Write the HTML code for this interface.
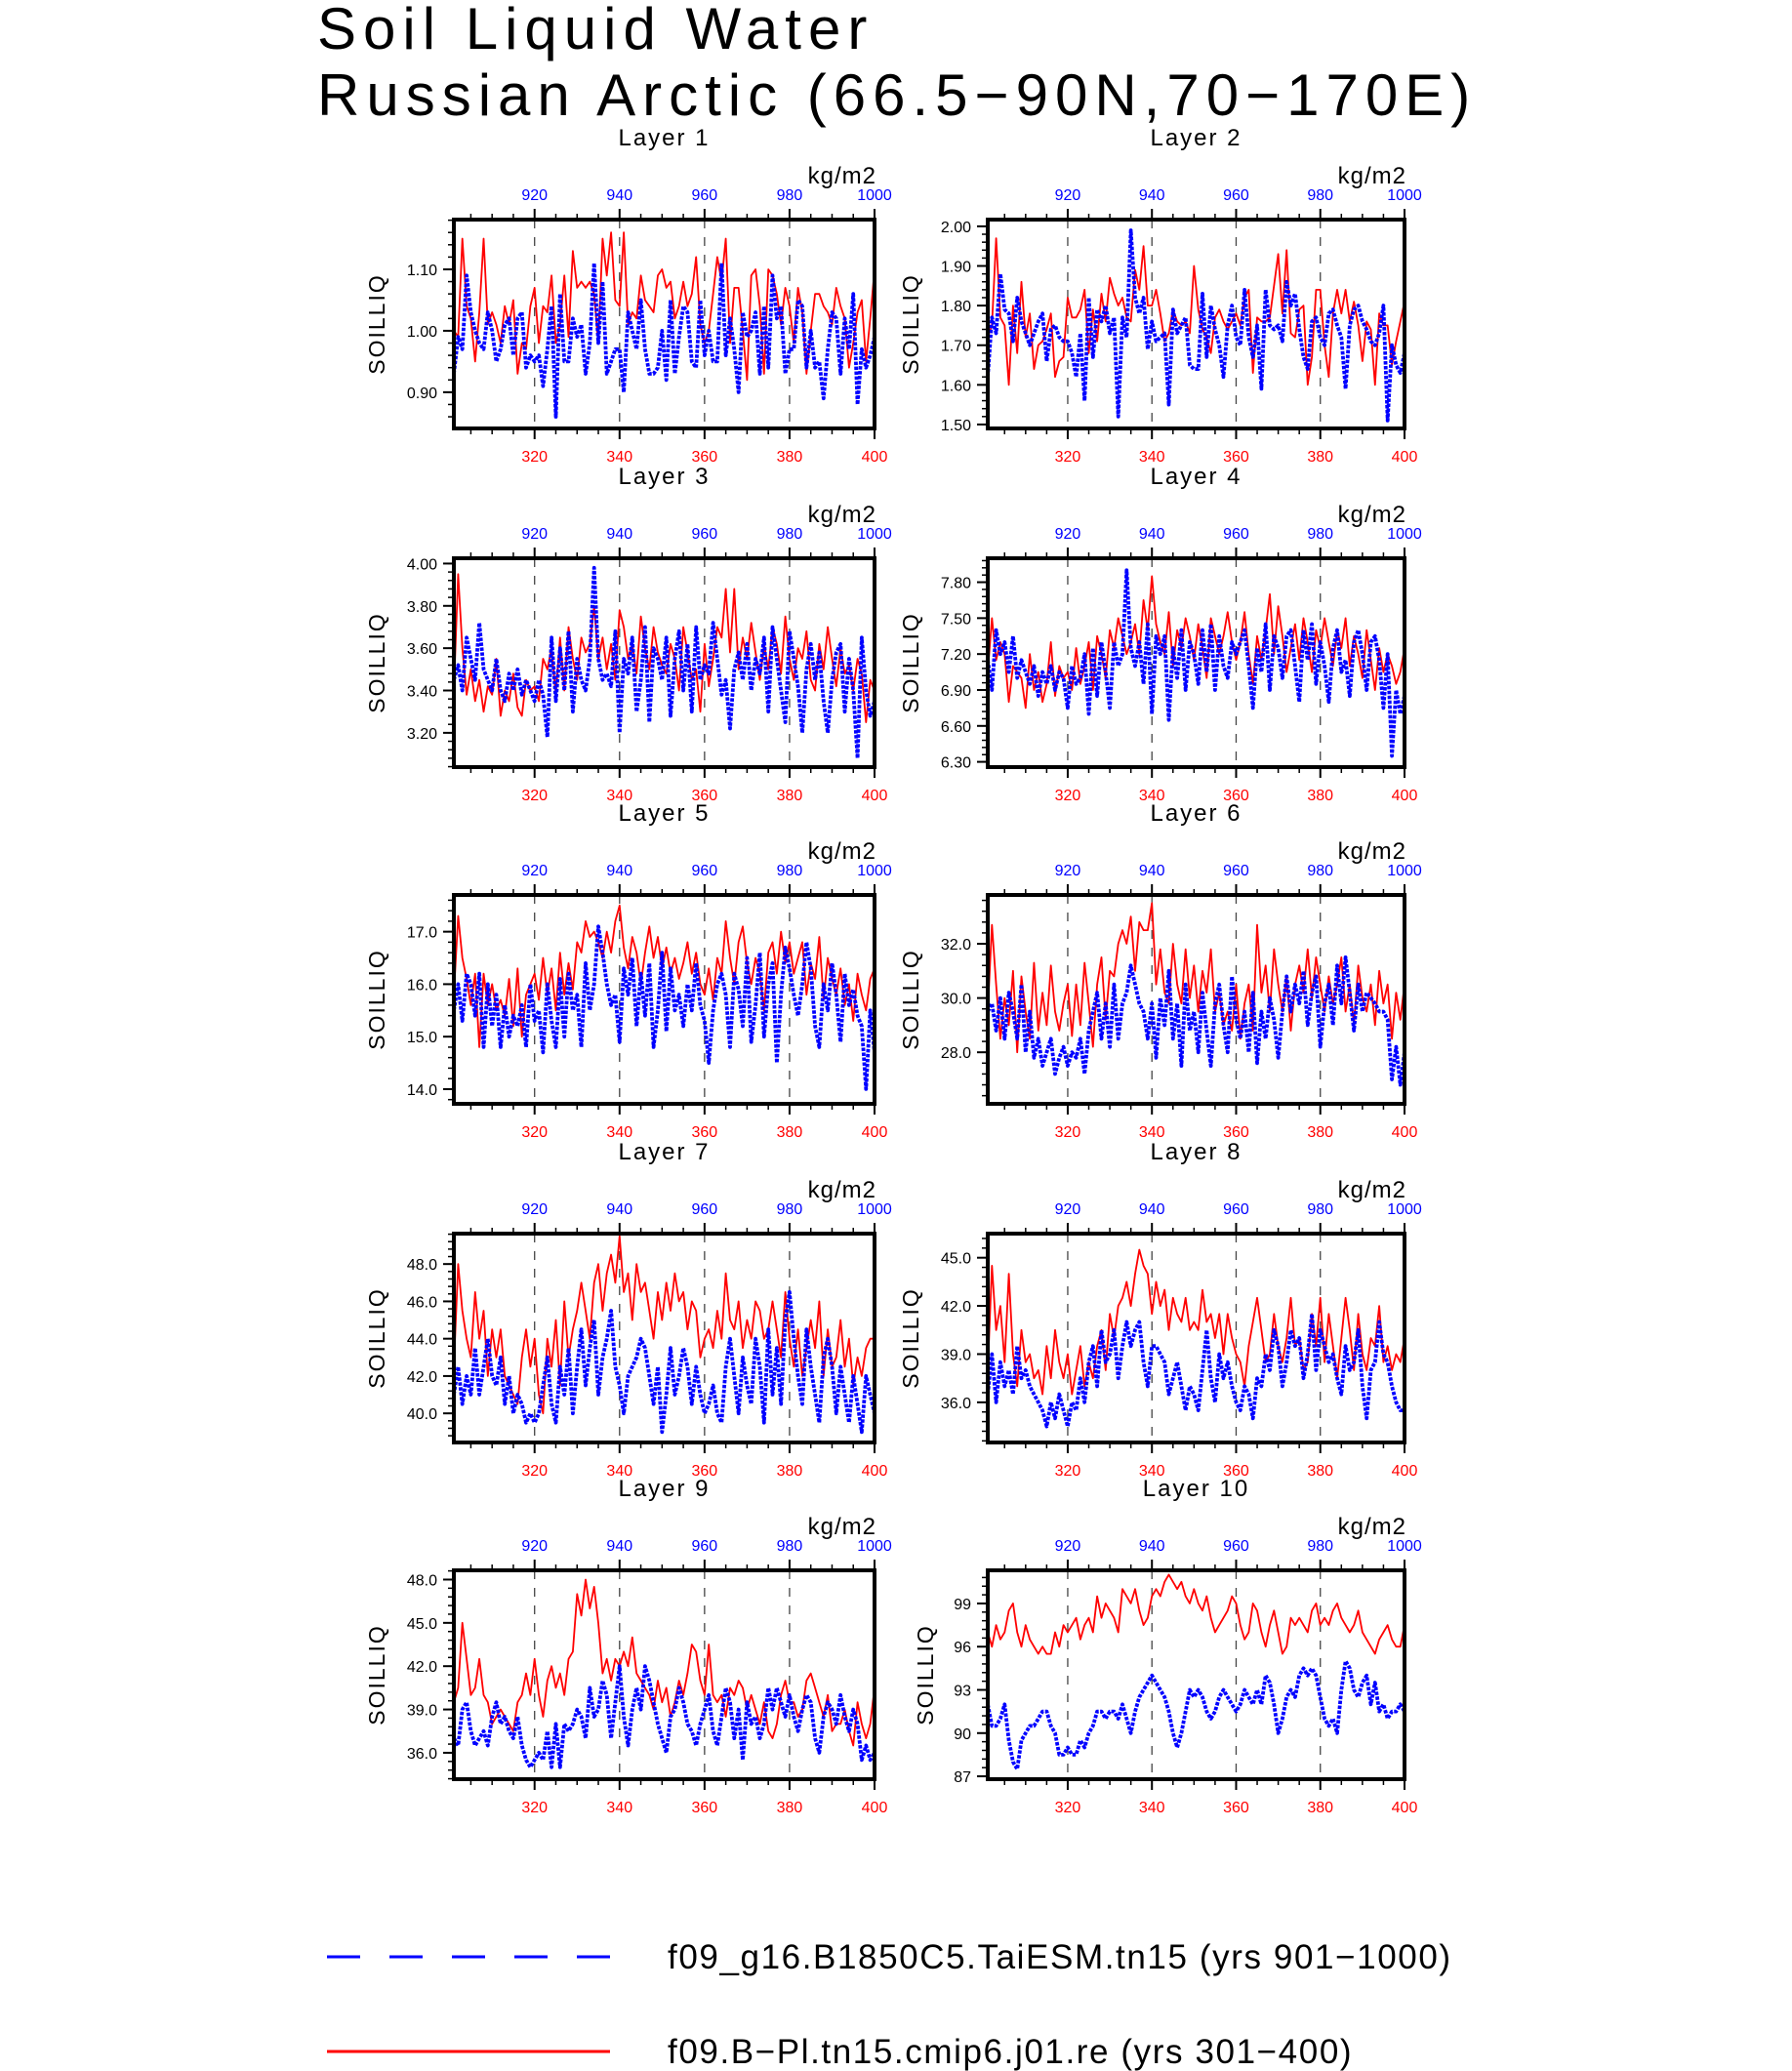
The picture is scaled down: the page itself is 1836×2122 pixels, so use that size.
<!DOCTYPE html>
<html><head><meta charset="utf-8"><style>
html,body{margin:0;padding:0;background:#fff;}
svg{display:block;font-family:"Liberation Sans","DejaVu Sans",sans-serif;}
</style></head><body>
<svg id="chart" width="1836" height="2122" viewBox="0 0 1836 2122" xmlns="http://www.w3.org/2000/svg">
<text x="325" y="50" font-size="60" letter-spacing="7" fill="#000">Soil Liquid Water</text>
<text x="325" y="118" font-size="60" letter-spacing="7" fill="#000">Russian Arctic (66.5−90N,70−170E)</text>
<g id="panels"></g>
<g>
<line x1="335" y1="2005" x2="625" y2="2005" stroke="#0000ff" stroke-width="3" stroke-dasharray="34 30"/>
<text x="684" y="2017" font-size="35" letter-spacing="1.6" fill="#000">f09_g16.B1850C5.TaiESM.tn15 (yrs 901−1000)</text>
<line x1="335" y1="2102" x2="625" y2="2102" stroke="#ff0000" stroke-width="3"/>
<text x="684" y="2114" font-size="35" letter-spacing="1.6" fill="#000">f09.B−Pl.tn15.cmip6.j01.re (yrs 301−400)</text>
</g>
</svg>
<script>
const redYears=[301,400];
const blueYears=[901,1000];
const xTickRed=["320","340","360","380","400"];
const xTickBlue=["920","940","960","980","1000"];
const layerNames=["Layer 1","Layer 2","Layer 3","Layer 4","Layer 5","Layer 6","Layer 7","Layer 8","Layer 9","Layer 10"];
const yRanges=[[0.841,1.181],[1.49,2.017],[3.038,4.025],[6.256,8.0],[13.72,17.7],[26.1,33.8],[38.44,49.63],[33.5,46.5],[34.17,48.64],[86.8,101.3]];
const yTicks=[[0.9,1.0,1.1],[1.5,1.6,1.7,1.8,1.9,2.0],[3.2,3.4,3.6,3.8,4.0],[6.3,6.6,6.9,7.2,7.5,7.8],[14,15,16,17],[28,30,32],[40,42,44,46,48],[36,39,42,45],[36,39,42,45,48],[87,90,93,96,99]];
const yMinor=[0.02,0.02,0.04,0.06,0.2,0.4,0.4,0.6,0.6,0.6];
const yDec=[2,2,2,2,1,1,1,1,1,0];

const red1=[1.00,0.99,1.15,1.04,1.02,0.95,1.03,1.15,1.01,1.03,1.01,0.98,1.04,1.01,1.05,0.93,0.98,0.97,1.04,1.07,0.98,1.04,1.03,1.09,0.98,1.01,1.09,0.99,1.13,1.07,1.08,1.07,1.08,1.06,0.98,1.15,1.09,1.16,1.05,1.04,1.16,1.01,1.03,1.02,1.09,1.05,1.04,1.03,1.09,1.10,1.07,1.08,1.02,1.04,1.08,1.04,1.06,1.12,1.01,0.98,1.00,1.06,1.12,1.08,1.15,0.98,1.07,1.07,1.00,0.92,1.09,1.10,1.04,0.93,1.10,1.09,1.06,1.01,1.07,1.04,0.98,1.07,1.03,0.93,1.00,1.06,1.06,1.04,1.03,1.01,1.07,1.04,1.02,0.94,0.98,1.03,1.05,0.95,1.02,1.10];
const blue1=[0.93,0.99,0.97,1.09,1.03,1.00,0.98,0.97,1.03,1.00,0.95,0.97,1.01,1.02,0.96,1.02,1.03,0.94,0.96,0.95,0.96,0.91,0.97,1.04,0.86,1.06,0.95,0.95,1.02,0.99,1.01,0.93,0.98,1.11,0.98,1.08,0.93,0.95,0.97,0.97,0.90,1.03,1.00,0.97,1.05,0.97,0.93,0.93,0.94,1.00,0.92,1.05,0.93,0.99,1.04,1.03,0.95,0.94,1.05,0.96,1.00,0.95,0.95,1.11,0.96,1.02,0.97,0.90,1.03,0.99,1.00,1.03,0.93,1.04,0.94,1.09,1.02,1.04,0.93,0.97,0.97,1.05,1.04,0.94,1.00,0.94,0.95,0.89,0.97,1.03,1.02,0.93,1.02,0.97,1.06,0.88,0.97,0.94,0.96,0.99];
const red2=[1.72,1.75,1.97,1.77,1.75,1.60,1.80,1.68,1.86,1.72,1.78,1.64,1.70,1.71,1.74,1.78,1.62,1.66,1.67,1.82,1.77,1.77,1.79,1.84,1.68,1.79,1.71,1.83,1.76,1.87,1.83,1.80,1.82,1.77,1.76,1.89,1.84,1.95,1.80,1.80,1.84,1.78,1.71,1.73,1.79,1.76,1.75,1.76,1.73,1.90,1.79,1.74,1.72,1.68,1.77,1.79,1.76,1.74,1.76,1.78,1.75,1.82,1.84,1.63,1.77,1.76,1.76,1.77,1.85,1.93,1.78,1.94,1.73,1.72,1.79,1.80,1.60,1.67,1.84,1.84,1.70,1.62,1.78,1.84,1.78,1.84,1.76,1.81,1.75,1.66,1.76,1.74,1.60,1.78,1.75,1.75,1.65,1.71,1.76,1.81];
const blue2=[1.62,1.77,1.73,1.88,1.79,1.78,1.71,1.82,1.76,1.73,1.70,1.73,1.76,1.78,1.66,1.74,1.75,1.72,1.71,1.71,1.68,1.62,1.73,1.56,1.82,1.67,1.79,1.76,1.80,1.73,1.77,1.52,1.77,1.72,1.99,1.82,1.78,1.82,1.69,1.76,1.71,1.72,1.73,1.55,1.79,1.73,1.75,1.77,1.65,1.64,1.64,1.83,1.67,1.80,1.74,1.70,1.62,1.75,1.80,1.72,1.70,1.84,1.72,1.67,1.75,1.59,1.84,1.75,1.74,1.75,1.71,1.86,1.80,1.83,1.74,1.67,1.64,1.76,1.77,1.72,1.70,1.78,1.79,1.75,1.72,1.59,1.75,1.79,1.80,1.76,1.74,1.71,1.70,1.73,1.80,1.51,1.70,1.65,1.63,1.68];
const red3=[3.40,3.95,3.60,3.38,3.50,3.35,3.45,3.30,3.42,3.38,3.55,3.28,3.40,3.35,3.48,3.32,3.28,3.45,3.40,3.42,3.35,3.55,3.50,3.60,3.38,3.65,3.40,3.70,3.55,3.45,3.65,3.58,3.62,3.80,3.55,3.65,3.50,3.62,3.45,3.78,3.70,3.55,3.62,3.48,3.75,3.60,3.50,3.70,3.58,3.52,3.48,3.62,3.55,3.40,3.70,3.58,3.45,3.50,3.30,3.62,3.42,3.55,3.70,3.65,3.88,3.58,3.88,3.50,3.65,3.55,3.72,3.58,3.45,3.62,3.50,3.70,3.62,3.48,3.75,3.55,3.45,3.60,3.55,3.68,3.45,3.40,3.62,3.50,3.70,3.55,3.42,3.60,3.48,3.52,3.40,3.55,3.48,3.25,3.45,3.40];
const blue3=[3.45,3.52,3.40,3.65,3.55,3.45,3.72,3.50,3.45,3.40,3.55,3.40,3.35,3.48,3.40,3.50,3.38,3.45,3.40,3.35,3.45,3.38,3.18,3.65,3.35,3.60,3.40,3.68,3.30,3.55,3.45,3.40,3.55,3.98,3.55,3.45,3.48,3.42,3.68,3.20,3.55,3.48,3.65,3.30,3.45,3.70,3.25,3.60,3.55,3.45,3.65,3.28,3.55,3.68,3.40,3.62,3.30,3.70,3.45,3.52,3.48,3.72,3.55,3.38,3.45,3.22,3.50,3.58,3.45,3.62,3.40,3.55,3.48,3.65,3.30,3.70,3.55,3.40,3.25,3.68,3.55,3.42,3.20,3.50,3.62,3.45,3.58,3.35,3.20,3.45,3.58,3.62,3.30,3.55,3.40,3.08,3.65,3.40,3.28,3.35];
const red4=[7.05,7.50,7.15,7.30,7.20,6.80,7.10,7.05,7.00,6.75,7.20,6.90,7.05,6.80,6.95,7.30,6.85,7.10,7.00,7.05,6.90,7.25,6.95,7.10,7.30,6.90,7.35,7.20,7.00,7.40,7.25,7.50,7.35,7.20,7.30,7.45,7.20,7.65,7.40,7.85,7.45,7.30,7.20,7.55,7.10,7.40,7.25,7.50,7.35,7.15,7.45,7.25,7.00,7.50,7.35,7.20,7.35,7.55,7.30,7.15,7.30,7.55,7.20,6.95,7.35,7.15,7.40,7.70,7.20,7.60,7.35,7.05,7.25,7.45,7.15,7.50,7.30,7.05,7.40,7.25,7.50,7.30,7.10,7.40,7.25,7.50,7.10,7.35,7.20,7.00,7.40,7.15,6.90,7.25,7.05,7.20,7.10,6.95,7.05,7.25];
const blue4=[7.15,6.90,7.40,7.20,7.30,7.05,7.35,7.00,7.15,7.05,6.95,7.10,6.85,7.05,6.95,7.10,6.90,7.05,7.00,6.75,7.10,6.95,7.00,7.20,6.70,7.25,6.85,7.30,7.05,6.75,7.30,7.10,7.20,7.90,7.25,7.10,7.30,6.95,7.45,6.70,7.35,7.20,7.35,6.65,7.25,7.00,7.40,6.90,7.30,7.20,6.95,7.40,7.05,7.45,6.90,7.35,7.10,7.00,7.30,7.20,7.30,7.40,7.10,6.75,7.25,7.05,7.45,6.90,7.35,7.25,7.00,7.35,7.40,7.10,6.80,7.40,7.15,7.45,6.95,7.30,7.10,6.80,7.25,7.40,7.05,7.15,6.85,7.30,7.40,7.20,6.90,7.30,7.35,7.15,6.75,7.20,6.35,6.90,6.70,6.85];
const red5=[15.8,17.3,16.5,16.1,15.6,16.2,14.8,16.2,15.6,16.0,15.5,15.7,15.4,16.1,15.2,16.3,15.0,15.8,16.0,16.2,15.7,16.5,15.8,16.3,15.5,16.6,15.8,16.4,15.9,16.8,16.6,17.2,16.9,17.0,16.8,16.5,17.0,16.6,17.2,17.5,16.7,16.3,16.9,16.6,16.0,16.6,17.1,16.5,16.9,16.3,16.7,16.2,16.5,16.1,16.4,16.8,16.2,16.6,16.0,15.8,16.3,15.7,16.5,16.2,17.2,16.5,16.0,16.8,17.1,16.4,16.0,16.5,16.2,15.5,16.6,16.8,16.2,17.0,16.4,16.8,16.2,16.5,16.8,15.8,16.4,16.1,16.9,15.7,16.5,16.1,15.8,16.3,15.6,16.0,15.3,16.2,15.8,15.5,16.1,16.3];
const blue5=[15.5,16.0,15.3,16.2,16.0,15.4,16.2,14.8,16.0,15.2,15.8,14.8,15.6,15.0,15.4,15.2,15.6,14.8,16.0,15.3,15.5,14.7,16.0,15.3,14.8,16.1,15.0,16.2,15.5,15.8,14.8,16.4,15.5,16.0,17.1,16.6,16.0,15.6,15.8,14.9,16.3,15.8,16.5,15.2,16.2,15.4,16.4,14.8,15.5,16.6,15.1,16.3,15.5,15.8,15.2,16.0,15.5,16.4,15.6,15.3,14.5,15.5,16.0,16.2,15.8,14.8,16.2,15.9,15.2,16.5,14.9,15.6,16.6,15.0,16.0,16.4,14.5,15.8,16.7,16.3,15.8,15.4,16.0,16.8,16.3,15.2,14.8,16.0,15.5,16.4,15.8,14.9,16.2,15.6,15.9,15.4,15.2,14.0,15.5,14.7];
const red6=[29.5,32.7,30.5,28.5,30.0,29.0,31.0,28.0,30.8,29.5,28.5,31.3,28.8,30.2,29.0,31.2,29.5,28.8,29.8,30.5,28.6,30.5,29.0,31.3,29.8,28.2,30.5,31.5,29.2,31.0,30.8,32.0,32.5,32.0,33.0,31.0,32.8,32.5,32.5,33.5,30.5,31.8,30.2,29.8,32.0,30.5,29.8,31.8,30.0,31.2,29.5,31.0,30.2,31.8,29.5,30.2,29.0,29.5,28.8,30.5,28.5,29.8,30.5,28.8,32.7,30.2,31.2,29.5,31.8,30.5,29.5,30.8,28.8,30.5,31.2,30.2,31.8,30.0,31.5,30.5,29.5,30.8,29.8,30.5,31.5,29.5,30.5,29.0,31.2,30.0,29.5,30.5,29.0,31.0,29.8,30.5,28.5,30.2,29.2,30.5];
const blue6=[29.5,29.8,28.8,30.0,28.5,30.2,29.5,28.5,30.5,28.0,29.5,27.8,28.5,27.5,28.0,28.5,27.2,27.8,28.2,27.5,28.0,27.8,28.5,27.2,28.8,29.5,30.2,28.5,29.8,28.2,30.5,28.5,29.8,30.2,31.2,30.5,29.8,29.5,28.5,29.8,27.8,30.0,29.0,31.0,28.5,29.8,27.5,30.5,28.8,29.5,28.0,30.2,28.8,27.5,29.8,30.5,29.0,28.0,30.8,29.2,28.5,29.5,28.0,30.2,27.6,29.5,28.5,30.0,29.2,27.8,29.5,30.8,29.5,30.5,29.8,31.0,29.0,30.2,30.8,28.2,29.8,30.5,29.0,31.2,29.8,31.5,30.2,28.8,30.5,29.5,30.2,30.0,29.8,29.5,29.5,29.2,27.0,28.2,26.8,28.0];
const red7=[42.5,48.0,45.5,44.0,43.0,46.5,44.0,45.5,42.0,44.5,43.0,44.5,42.0,41.5,41.0,40.5,43.0,44.5,42.5,44.0,41.0,40.0,44.0,42.5,45.0,41.5,46.0,43.0,44.5,45.5,47.0,45.5,44.0,47.0,48.0,45.5,47.5,48.5,47.0,49.5,46.5,47.5,45.0,48.0,46.5,47.0,45.5,44.0,46.5,45.0,47.0,45.5,47.5,46.0,46.5,44.5,46.0,45.5,43.0,44.0,44.5,43.5,45.5,44.0,47.5,45.0,44.5,46.0,43.5,45.0,44.0,46.0,45.5,44.0,44.5,46.0,44.5,43.0,46.5,44.0,42.5,44.5,42.0,43.5,45.0,43.5,46.0,42.0,44.5,42.5,43.0,45.0,42.5,44.0,41.5,43.0,42.0,43.5,44.0,44.0];
const blue7=[41.0,42.5,40.5,42.0,41.0,43.5,41.0,42.5,44.0,42.0,41.5,43.0,40.5,42.0,40.0,41.0,40.5,39.5,40.0,39.5,40.0,41.5,43.0,40.5,39.5,42.5,41.0,43.5,40.0,42.5,44.5,41.5,43.5,45.0,41.0,43.0,44.0,45.5,42.5,41.5,40.0,42.0,42.5,43.0,44.0,43.5,42.0,40.5,42.5,39.0,41.0,43.5,41.0,42.0,43.5,42.5,40.5,42.5,41.0,40.0,40.5,41.5,40.0,39.5,42.5,44.0,42.0,40.0,43.0,41.5,40.5,44.0,42.5,39.5,44.5,41.0,43.5,40.5,45.0,46.5,44.0,42.0,40.5,44.5,42.5,41.0,39.5,43.0,44.0,42.5,40.0,42.5,41.0,39.5,42.0,40.5,39.0,42.0,41.0,40.0];
const red8=[38.0,44.5,40.5,42.0,38.5,44.0,39.0,37.0,40.5,38.5,39.0,37.5,38.0,36.5,39.5,37.5,40.5,38.5,37.5,39.0,36.5,38.0,39.5,37.0,38.5,37.5,39.5,40.5,38.0,41.5,40.0,42.0,42.5,43.5,42.0,44.0,45.5,44.5,44.0,41.5,43.5,42.0,43.0,40.5,42.5,41.5,41.0,42.5,40.5,41.0,40.5,43.0,41.0,41.5,40.0,41.5,39.0,41.5,40.0,39.0,38.5,37.0,39.5,41.0,42.5,40.5,38.5,39.0,41.5,39.5,38.5,40.0,42.5,39.5,40.0,38.0,38.5,41.5,39.5,42.5,38.5,41.5,39.5,37.5,40.0,42.5,40.5,38.0,41.5,39.0,38.0,40.0,39.5,42.0,38.5,39.5,38.0,39.0,38.5,40.0];
const blue8=[36.5,39.0,36.0,38.5,37.0,38.0,36.5,39.5,37.5,38.0,37.0,36.5,36.0,35.5,34.5,36.0,35.0,36.5,35.5,34.5,36.0,35.5,37.5,36.0,38.5,39.5,37.0,40.5,38.5,39.0,40.5,37.5,39.5,41.0,39.5,40.5,41.0,38.5,37.0,39.5,39.5,39.0,38.5,36.5,37.5,38.5,37.0,35.5,37.0,36.5,35.5,38.0,40.5,37.5,36.0,39.0,37.5,38.5,37.0,36.0,35.5,37.0,36.5,35.0,37.5,37.0,39.0,38.0,40.5,39.5,37.0,38.5,40.5,39.5,40.0,37.5,39.0,41.5,38.0,40.5,39.5,38.5,39.0,37.5,36.5,39.5,38.0,38.5,40.5,37.0,35.0,38.0,38.5,41.0,39.0,38.5,37.0,36.0,35.5,35.5];
const red9=[39.5,40.5,45.0,42.5,40.0,40.5,42.5,40.0,39.5,38.0,38.5,39.0,38.5,38.0,37.5,39.5,40.0,41.5,40.0,42.5,40.0,38.5,41.0,42.0,40.5,41.5,40.0,42.5,43.0,47.0,45.5,48.0,46.0,47.5,45.0,41.5,42.5,41.0,42.5,42.0,43.0,42.0,44.0,41.5,41.0,40.5,40.0,39.0,41.0,39.5,40.5,38.5,39.5,41.0,40.0,41.5,43.5,43.0,41.0,40.0,43.5,40.0,39.5,40.0,38.5,40.5,40.0,41.0,40.5,39.0,40.0,39.0,38.0,39.5,37.5,37.0,38.0,40.0,41.0,39.5,39.5,38.5,39.0,41.0,41.5,40.5,39.5,38.5,40.0,37.5,38.0,38.0,39.0,37.5,36.5,39.5,38.0,37.0,38.0,40.5];
const blue9=[37.0,36.5,39.0,39.5,37.5,36.5,37.0,37.5,36.5,38.5,39.5,38.0,38.5,37.5,37.0,38.5,36.5,35.5,35.0,35.5,36.0,35.5,37.5,35.0,38.0,35.0,38.0,37.5,38.0,39.0,38.5,37.0,40.5,38.5,39.0,41.0,40.0,37.0,39.5,42.0,38.5,36.5,39.0,40.5,39.0,42.0,41.0,39.5,38.0,37.0,36.0,38.5,39.0,40.5,39.5,38.0,37.5,36.5,38.0,39.0,40.0,37.5,36.5,38.5,40.5,39.5,37.0,39.0,35.5,39.5,38.0,38.5,37.0,38.0,40.5,39.0,40.5,39.5,38.5,40.0,38.5,37.5,39.0,40.0,39.5,37.0,36.0,38.5,39.5,39.0,38.0,40.0,38.5,37.5,39.0,38.0,35.5,36.5,35.5,36.0];
const red10=[97.0,96.0,97.5,96.5,97.0,98.5,99.0,97.0,96.0,97.5,96.5,96.0,95.5,96.0,95.5,95.5,97.0,96.0,97.5,97.0,97.5,98.0,96.5,97.5,98.0,97.0,99.5,98.0,99.0,98.5,98.0,97.0,100.0,99.5,99.0,100.0,98.5,97.5,98.0,99.5,100.0,99.5,100.5,101.0,100.5,100.0,100.5,99.5,99.0,100.0,99.0,98.5,99.5,98.0,97.0,97.5,98.0,98.5,99.5,99.0,97.5,96.5,97.0,99.0,98.5,97.0,96.0,97.5,98.5,97.0,95.5,96.0,98.0,97.5,98.0,97.5,97.0,98.5,99.0,97.5,98.0,97.5,98.5,99.0,98.0,97.5,97.0,97.5,98.5,97.0,96.5,96.0,95.5,96.5,97.0,97.5,96.5,96.0,96.0,97.5];
const blue10=[92.0,90.5,90.5,91.0,92.0,89.5,88.0,87.5,89.5,90.0,90.5,90.5,91.0,91.5,91.5,90.5,90.0,88.5,88.5,89.0,88.5,88.5,89.5,89.0,90.0,90.5,91.5,91.5,91.0,91.5,91.5,91.0,92.0,91.0,90.0,91.5,92.5,93.0,93.5,94.0,93.5,93.0,92.5,91.5,90.0,89.0,90.0,91.5,93.0,92.5,93.0,92.5,91.5,91.0,91.5,92.5,93.0,92.5,92.0,91.5,92.0,93.0,92.5,92.0,93.0,92.0,94.0,93.5,92.0,90.0,91.0,92.5,93.0,92.5,94.0,94.5,94.0,94.5,94.0,92.5,91.0,90.5,91.0,90.0,93.0,95.0,94.5,93.0,92.5,93.5,94.0,92.0,93.5,91.5,92.0,91.0,91.5,91.5,92.0,91.5];

const redSeries=[red1,red2,red3,red4,red5,red6,red7,red8,red9,red10];
const blueSeries=[blue1,blue2,blue3,blue4,blue5,blue6,blue7,blue8,blue9,blue10];

const NS="http://www.w3.org/2000/svg";
const root=document.getElementById('panels');
function mk(tag,attrs,parent){const e=document.createElementNS(NS,tag);for(const k in attrs)e.setAttribute(k,attrs[k]);(parent||root).appendChild(e);return e;}

const colX=[465,1012], colW=[431,427];
const rowY=[225,572,917,1264,1609], H=214;

for(let p=0;p<10;p++){
  const col=p%2,row=Math.floor(p/2);
  const x0=colX[col],w=colW[col],y0=rowY[row];
  const [ymin,ymax]=yRanges[p];
  const xs=v=>x0+(v-redYears[0])/(redYears[1]-redYears[0])*w;
  const xb=v=>x0+(v-blueYears[0])/(blueYears[1]-blueYears[0])*w;
  const ys=v=>y0+H-(v-ymin)/(ymax-ymin)*H;
  const g=mk('g',{});
  
  

  const t=mk('text',{x:x0+w/2,y:y0-76,'font-size':24,'text-anchor':'middle',fill:'#000','letter-spacing':'2'},g);
  
  
  t.textContent=layerNames[p];
  const u=mk('text',{x:x0+w+2,y:y0-37,'font-size':24,'text-anchor':'end',fill:'#000','letter-spacing':'1'},g);
  
  
  u.textContent='kg/m2';
  const yl=mk('text',{x:0,y:0,'font-size':23,'text-anchor':'middle',fill:'#000','letter-spacing':'2',transform:`translate(${p===9?956:x0-71},${y0+H/2}) rotate(-90)`},g);
  
  
  yl.textContent='SOILLIQ';

  for(let i=0;i<xTickRed.length-1;i++){
    const gx=xs(+xTickRed[i]);
    const gl=mk('line',{x1:gx,y1:y0,x2:gx,y2:y0+H,stroke:'#444','stroke-width':1.3,'stroke-dasharray':'9 9'},g);
    
    
  }
  for(let yv=redYears[0]+4;yv<=redYears[1];yv+=5){
    const tx=xs(yv);const major=(yv%20===0);const L=major?11:6;
    mk('line',{x1:tx,y1:y0+H,x2:tx,y2:y0+H+L,stroke:'#000','stroke-width':major?2:1.5},g);
    mk('line',{x1:tx,y1:y0,x2:tx,y2:y0-L,stroke:'#000','stroke-width':major?2:1.5},g);
  }
  xTickRed.forEach(s=>{
    const tt=mk('text',{x:xs(+s),y:y0+H+34,'font-size':16,'text-anchor':'middle',fill:'#ff0000'},g);
    
    
    tt.textContent=s;
  });
  xTickBlue.forEach(s=>{
    const tt=mk('text',{x:xb(+s),y:y0-20,'font-size':16,'text-anchor':'middle',fill:'#0000ff'},g);
    
    
    tt.textContent=s;
  });
  const ms=yMinor[p];
  for(let v=Math.ceil(ymin/ms)*ms;v<=ymax+1e-9;v+=ms){
    const ty=ys(v);
    mk('line',{x1:x0,y1:ty,x2:x0-6,y2:ty,stroke:'#000','stroke-width':1.5},g);
  }
  yTicks[p].forEach(v=>{
    const ty=ys(v);
    mk('line',{x1:x0,y1:ty,x2:x0-11,y2:ty,stroke:'#000','stroke-width':2},g);
    const tl=mk('text',{x:x0-17,y:ty+6,'font-size':16,'text-anchor':'end',fill:'#000'},g);
    
    
    tl.textContent=v.toFixed(yDec[p]);
  });

  const clipId='clip'+p;
  const cp=mk('clipPath',{id:clipId},g);
  mk('rect',{x:x0,y:y0,width:w,height:H},cp);

  const rp=redSeries[p].map((v,i)=>xs(redYears[0]+i).toFixed(1)+','+ys(v).toFixed(1)).join(' ');
  const rl=mk('polyline',{points:rp,fill:'none',stroke:'#ff0000','stroke-width':1.8,'stroke-linejoin':'round','clip-path':`url(#${clipId})`},g);
  
  
  const bp=blueSeries[p].map((v,i)=>xb(blueYears[0]+i).toFixed(1)+','+ys(v).toFixed(1)).join(' ');
  const bl=mk('polyline',{points:bp,fill:'none',stroke:'#0000ff','stroke-width':3.8,'stroke-dasharray':'3.5 1.5','stroke-linejoin':'round','clip-path':`url(#${clipId})`},g);
  
  

  const fr=mk('rect',{x:x0,y:y0,width:w,height:H,fill:'none',stroke:'#000','stroke-width':4},g);
  
  
}
</script>
</body></html>
